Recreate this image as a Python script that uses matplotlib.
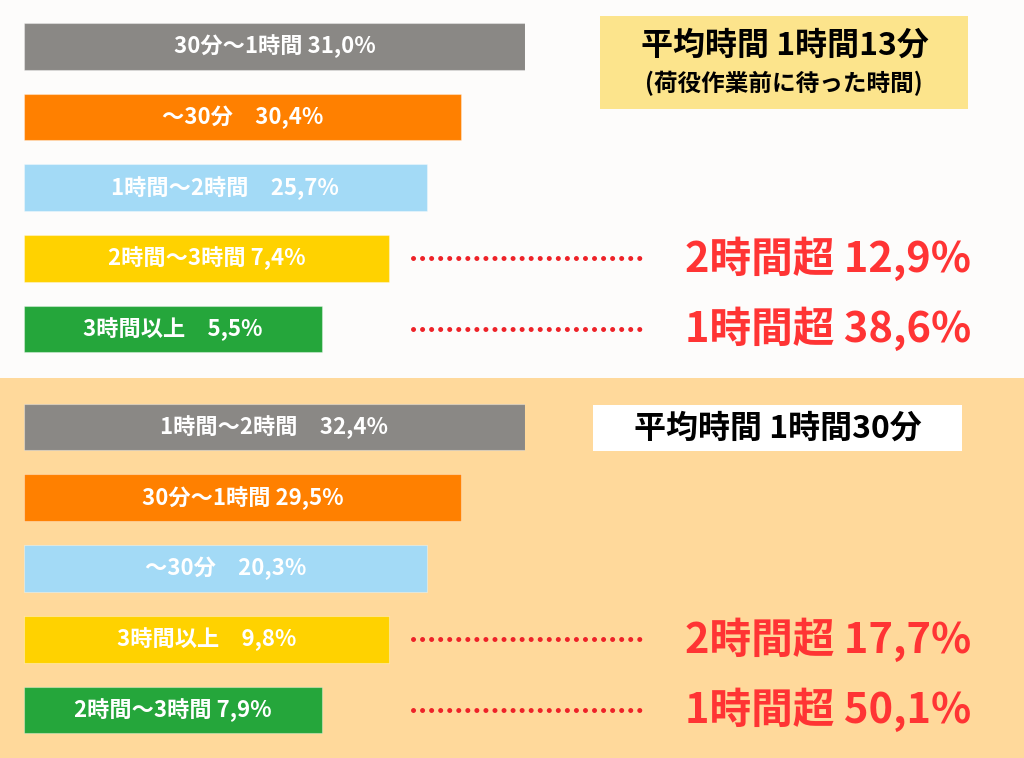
import numpy as np
import matplotlib.pyplot as plt
from matplotlib.patches import Rectangle

plt.rcParams['font.family'] = ['Noto Sans CJK JP', 'DejaVu Sans']

# --- Daten ---
top_labels = ["30分～1時間", "～30分", "1時間～2時間", "2時間～3時間", "3時間以上"]
top_values = [31.0, 30.4, 25.7, 7.4, 5.5]
top_sep = [" ", "\u3000", "\u3000", " ", "\u3000"]
top_summary_labels = ["2時間超", "1時間超"]
top_summary_values = [12.9, 38.6]
top_avg = "平均時間 1時間13分"
top_avg_note = "(荷役作業前に待った時間)"

bot_labels = ["1時間～2時間", "30分～1時間", "～30分", "3時間以上", "2時間～3時間"]
bot_values = [32.4, 29.5, 20.3, 9.8, 7.9]
bot_sep = ["\u3000", " ", "\u3000", "\u3000", " "]
bot_summary_labels = ["2時間超", "1時間超"]
bot_summary_values = [17.7, 50.1]
bot_avg = "平均時間 1時間30分"

# Balkenlänge nach Rang (Darstellung, nicht proportional)
bar_len = [100, 87.2, 80.4, 72.9, 59.5]
bar_colors = ["#8a8885", "#ff8000", "#a3daf6", "#ffd200", "#25a63b"]

W, H = 1024, 758
bg_top = "#fdfcfb"
bg_bot = "#ffd99b"
red = "#ff3434"


def fmt(v):
    return f"{v:.1f}".replace(".", ",") + "%"


def px(x, y):
    return x / W, 1 - y / H


fig = plt.figure(figsize=(W / 100, H / 100), dpi=100)
fig.patch.set_facecolor(bg_top)
fig.add_artist(Rectangle((0, 0), 1, (H - 378) / H, transform=fig.transFigure,
                         facecolor=bg_bot, edgecolor='none', zorder=0))


def panel(y_top, y_bot, labels, values, seps, sum_labels, sum_values):
    x0, x1 = 24, 525
    ax = fig.add_axes([x0 / W, 1 - y_bot / H, (x1 - x0) / W, (y_bot - y_top) / H])
    ax.set_facecolor('none')
    rows = np.arange(len(values))
    ax.barh(rows, bar_len, height=0.66, color=bar_colors,
            edgecolor=(1, 1, 1, 0.35), linewidth=0.8)
    for r, lab, v, s, L in zip(rows, labels, values, seps, bar_len):
        ax.text(L / 2, r, lab + s + fmt(v), ha='center', va='center',
                color='white', fontsize=16, fontweight='bold')
    for r, lab, v in zip(rows[-2:], sum_labels, sum_values):
        ax.plot([77.6, 123.0], [r, r], color="#ee2228", lw=3.6,
                dashes=(0.01, 1.8), dash_capstyle='round', clip_on=False)
        ax.text(132, r, f"{lab} {fmt(v)}", ha='left', va='center',
                color=red, fontsize=30, fontweight='bold', clip_on=False)
    ax.set_xlim(0, 100)
    ax.set_ylim(len(values) - 0.5, -0.5)
    ax.axis('off')
    return ax


panel(11.2, 364.3, top_labels, top_values, top_sep,
      top_summary_labels, top_summary_values)
panel(391.6, 745.4, bot_labels, bot_values, bot_sep,
      bot_summary_labels, bot_summary_values)

# Durchschnitt-Boxen
fig.add_artist(Rectangle(px(600, 109), 368 / W, 93 / H, transform=fig.transFigure,
                         facecolor="#fce48c", edgecolor='none', zorder=1))
fig.text(*px(785, 46), top_avg, ha='center', va='center', fontsize=23,
         fontweight='bold', color='black', zorder=2)
fig.text(*px(784, 83), top_avg_note, ha='center', va='center', fontsize=17,
         fontweight='bold', color='black', zorder=2)

fig.add_artist(Rectangle(px(593, 451), 369 / W, 46 / H, transform=fig.transFigure,
                         facecolor="white", edgecolor='none', zorder=1))
fig.text(*px(778, 429), bot_avg, ha='center', va='center', fontsize=23,
         fontweight='bold', color='black', zorder=2)

fig.savefig("out.png", dpi=100, facecolor=fig.get_facecolor())
